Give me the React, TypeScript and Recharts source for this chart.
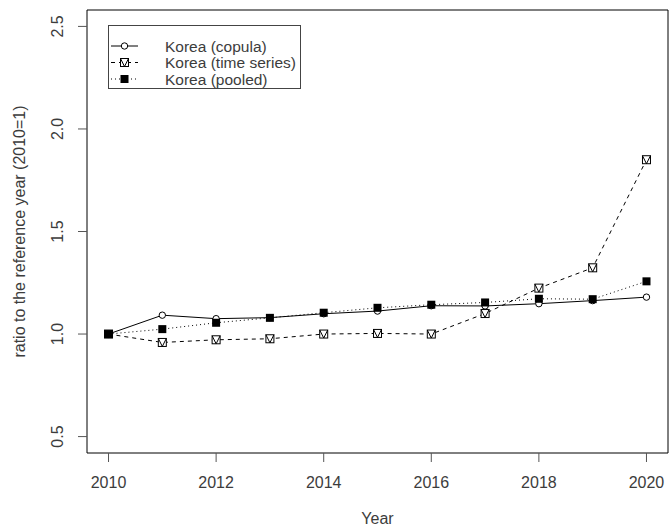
import React from 'react';
import { LineChart, Line, XAxis, YAxis, ReferenceArea, Legend, Label } from 'recharts';

// values (ratio to 2010)
const years = [2010, 2011, 2012, 2013, 2014, 2015, 2016, 2017, 2018, 2019, 2020];
const copula = [1.0, 1.092, 1.075, 1.08, 1.099, 1.112, 1.138, 1.137, 1.148, 1.163, 1.18];
const timeSeries = [1.0, 0.959, 0.972, 0.977, 1.0, 1.003, 1.0, 1.1, 1.224, 1.323, 1.85];
const pooled = [1.0, 1.024, 1.055, 1.079, 1.104, 1.128, 1.143, 1.154, 1.172, 1.17, 1.257];

const seriesNames = ['Korea (copula)', 'Korea (time series)', 'Korea (pooled)'];
const xTicks = [2010, 2012, 2014, 2016, 2018, 2020];
const yTicks = [0.5, 1.0, 1.5, 2.0, 2.5];

const data = years.map((year, i) => ({
    year,
    copula: copula[i],
    ts: timeSeries[i],
    pooled: pooled[i],
}));

const FONT = 'Arial, "Liberation Sans", sans-serif';
const TEXT = '#3c3c3c';

const OpenCircle = (props: any) => {
    const { cx, cy } = props;
    if (cx == null || cy == null) return null;
    return <circle cx={cx} cy={cy} r={3.2} fill="#fff" stroke="#000" strokeWidth={1} />;
};

const BoxV = (props: any) => {
    const { cx, cy } = props;
    if (cx == null || cy == null) return null;
    const s = 4;
    return (
        <g>
            <rect x={cx - s} y={cy - s} width={s * 2} height={s * 2} fill="#fff" stroke="#000" strokeWidth={1} />
            <path d={`M${cx - s},${cy - s} L${cx},${cy + s} L${cx + s},${cy - s}`} fill="none" stroke="#000" strokeWidth={1} />
        </g>
    );
};

const FilledSquare = (props: any) => {
    const { cx, cy } = props;
    if (cx == null || cy == null) return null;
    return <rect x={cx - 4} y={cy - 4} width={8} height={8} fill="#000" />;
};

const markers = [OpenCircle, BoxV, FilledSquare];
const dashes = [undefined, '4 4', '1 3'];

const YTick = (props: any) => {
    const { x, y, payload } = props;
    return (
        <text
            x={x}
            y={y}
            transform={`rotate(-90 ${x} ${y})`}
            textAnchor="middle"
            fontSize={16}
            fontFamily={FONT}
            fill={TEXT}
        >
            {Number(payload.value).toFixed(1)}
        </text>
    );
};

const YTitle = (props: any) => {
    const vb = props.viewBox || { x: 0, y: 0, width: 0, height: 0 };
    const x = 25;
    const y = vb.y + vb.height / 2;
    return (
        <text x={x} y={y} transform={`rotate(-90 ${x} ${y})`} textAnchor="middle" fontSize={16} fontFamily={FONT} fill={TEXT}>
            ratio to the reference year (2010=1)
        </text>
    );
};

const LegendBox = () => (
    <svg width={194} height={65} style={{ display: 'block' }}>
        <rect x={0.5} y={0.5} width={192} height={63} fill="#fff" stroke="#444" strokeWidth={1} />
        {seriesNames.map((name, i) => {
            const y = 21 + i * 16.5;
            const Marker = markers[i];
            return (
                <g key={name}>
                    <line x1={3} x2={30} y1={y} y2={y} stroke="#000" strokeWidth={1} strokeDasharray={dashes[i]} />
                    <Marker cx={16.5} cy={y} />
                    <text x={57} y={y + 5.5} fontSize={15.5} fontFamily={FONT} fill={TEXT}>
                        {name}
                    </text>
                </g>
            );
        })}
    </svg>
);

const App: React.FC = () => {
    return (
        <div style={{ position: 'absolute', left: 0, top: 0, width: 669, height: 532, background: '#fff' }}>
            <LineChart width={669} height={532} data={data} margin={{ top: 10, right: 1, bottom: 0, left: 0 }}>
                <XAxis
                    dataKey="year"
                    type="number"
                    domain={[2009.6, 2020.4]}
                    ticks={xTicks}
                    allowDataOverflow
                    axisLine={false}
                    tickLine={{ stroke: '#555' }}
                    tickSize={9}
                    tickMargin={15}
                    height={79}
                    tick={{ fontSize: 16, fill: TEXT, fontFamily: FONT }}
                >
                    <Label value="Year" position="insideBottom" offset={8} fontSize={16} fill={TEXT} fontFamily={FONT} />
                </XAxis>
                <YAxis
                    type="number"
                    domain={[0.42, 2.58]}
                    ticks={yTicks}
                    allowDataOverflow
                    axisLine={false}
                    tickLine={{ stroke: '#555' }}
                    tickSize={9}
                    tickMargin={15}
                    width={87}
                    tick={<YTick />}
                >
                    <Label content={<YTitle />} />
                </YAxis>
                <ReferenceArea x1={2009.6} x2={2020.4} y1={0.42} y2={2.58} fill="none" stroke="#000" strokeWidth={1} />
                <Line
                    dataKey="copula"
                    name={seriesNames[0]}
                    stroke="#000"
                    strokeWidth={1}
                    dot={<OpenCircle />}
                    activeDot={false}
                    isAnimationActive={false}
                />
                <Line
                    dataKey="ts"
                    name={seriesNames[1]}
                    stroke="#000"
                    strokeWidth={1}
                    strokeDasharray={dashes[1]}
                    dot={<BoxV />}
                    activeDot={false}
                    isAnimationActive={false}
                />
                <Line
                    dataKey="pooled"
                    name={seriesNames[2]}
                    stroke="#000"
                    strokeWidth={1}
                    strokeDasharray={dashes[2]}
                    dot={<FilledSquare />}
                    activeDot={false}
                    isAnimationActive={false}
                />
                <Legend
                    layout="horizontal"
                    verticalAlign="middle"
                    align="center"
                    content={<LegendBox />}
                    wrapperStyle={{ left: 108, top: 25, width: 194, height: 65 }}
                />
            </LineChart>
        </div>
    );
};

export default App;
